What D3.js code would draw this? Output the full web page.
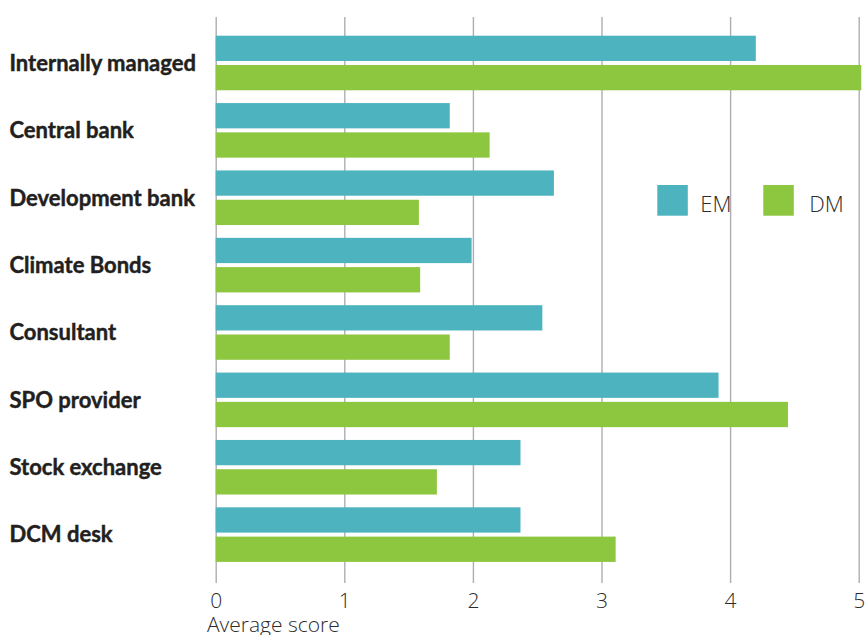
<!DOCTYPE html>
<html>
<head>
<meta charset="utf-8">
<script src="https://cdn.jsdelivr.net/npm/d3@7/dist/d3.min.js"></script>
<style>
  html, body { margin: 0; padding: 0; background: #ffffff; }
  svg { display: block; }
</style>
</head>
<body>
<svg id="chart" width="865" height="635"></svg>
<script>
// Issuer type categories, top to bottom
const categories = [
  "Internally managed",
  "Central bank",
  "Development bank",
  "Climate Bonds",
  "Consultant",
  "SPO provider",
  "Stock exchange",
  "DCM desk"
];

// Average scores by market group
const seriesNames = ["EM", "DM"];
const emScores = [4.20, 1.82, 2.63, 1.99, 2.54, 3.91, 2.37, 2.37];
const dmScores = [5.02, 2.13, 1.58, 1.59, 1.82, 4.45, 1.72, 3.11];

const xTicks = [0, 1, 2, 3, 4, 5];
const xTitle = "Average score";

const colors = { EM: "#4db3bf", DM: "#8dc63f" };

const svg = d3.select("#chart");

const x = d3.scaleLinear().domain([0, 5]).range([215.7, 858.7]);

const y = d3.scaleBand()
  .domain(categories)
  .range([29.3, 568.3])
  .paddingInner(0.19)
  .paddingOuter(0.095);

const ySub = d3.scaleBand()
  .domain(seriesNames)
  .range([0, y.bandwidth()])
  .paddingInner(0.137);

const gridTop = 17, gridBottom = 583;

// Axis with full-height gridlines
const axis = svg.append("g")
  .attr("transform", `translate(0,${gridBottom})`)
  .call(d3.axisBottom(x)
    .tickValues(xTicks)
    .tickFormat(d3.format("d"))
    .tickSize(-(gridBottom - gridTop))
    .tickSizeOuter(0)
    .tickPadding(10));

axis.select(".domain").remove();
axis.selectAll(".tick line")
  .attr("stroke", "#aeadb4")
  .attr("stroke-width", 1.4);
axis.selectAll(".tick text")
  .attr("fill", "#2b2b2b")
  .style("font-family", "'Open Sans', Lato, sans-serif")
  .style("font-weight", 300)
  .style("font-size", "21px");

// Bars
const rows = categories.map((c, i) => ({ cat: c, EM: emScores[i], DM: dmScores[i] }));

const groups = svg.append("g")
  .selectAll("g")
  .data(rows)
  .join("g")
  .attr("transform", d => `translate(0,${y(d.cat)})`);

groups.selectAll("rect")
  .data(d => seriesNames.map(s => ({ key: s, value: d[s] })))
  .join("rect")
  .attr("x", x(0))
  .attr("y", d => ySub(d.key))
  .attr("width", d => x(d.value) - x(0))
  .attr("height", ySub.bandwidth())
  .attr("fill", d => colors[d.key]);

// Category labels (slightly heavier via a thin matching stroke)
svg.append("g")
  .selectAll("text")
  .data(categories)
  .join("text")
  .attr("x", 9.5)
  .attr("y", d => y(d) + y.bandwidth() / 2 + 7.8)
  .attr("fill", "#231f20")
  .attr("stroke", "#231f20")
  .attr("stroke-width", 0.45)
  .style("font-family", "Lato, sans-serif")
  .style("font-weight", 700)
  .style("font-size", "22px")
  .text(d => d);

// Axis title
svg.append("text")
  .attr("x", 207)
  .attr("y", 632)
  .attr("fill", "#2b2b2b")
  .style("font-family", "'Open Sans', Lato, sans-serif")
  .style("font-weight", 300)
  .style("font-size", "21px")
  .text(xTitle);

// Legend
const legend = svg.append("g")
  .selectAll("g")
  .data(seriesNames)
  .join("g")
  .attr("transform", (d, i) => `translate(${657.3 + i * 106},185)`);

legend.append("rect")
  .attr("width", 30.5)
  .attr("height", 30.7)
  .attr("fill", d => colors[d]);

legend.append("text")
  .attr("x", d => d === "EM" ? 43 : 46)
  .attr("y", 27.3)
  .attr("fill", "#2b2b2b")
  .style("font-family", "'Open Sans', Lato, sans-serif")
  .style("font-weight", 300)
  .style("font-size", "22px")
  .text(d => d);
</script>
</body>
</html>
